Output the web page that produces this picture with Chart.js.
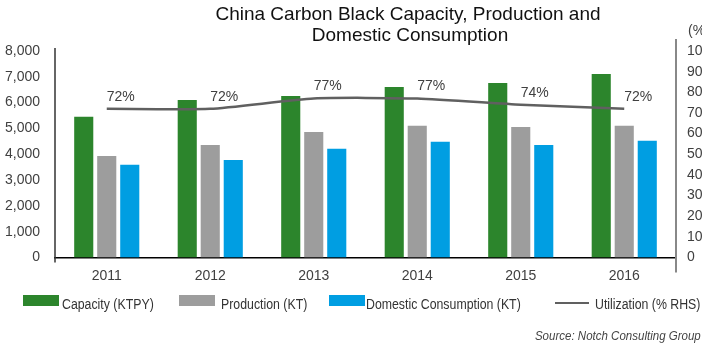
<!DOCTYPE html>
<html>
<head>
<meta charset="utf-8">
<title>China Carbon Black Capacity, Production and Domestic Consumption</title>
<script src="https://cdn.jsdelivr.net/npm/chart.js@4.4.0/dist/chart.umd.min.js"></script>
<style>
  html, body { margin: 0; padding: 0; background: #fff; overflow: hidden; }
  #wrap {
    position: relative; width: 702px; height: 347px; overflow: hidden;
    font-family: 'Liberation Sans', Arial, sans-serif;
  }
  #wrap canvas { position: absolute; left: 0; top: 0; }
  .txt { position: absolute; white-space: nowrap; }
  .title {
    width: 500px; text-align: center; font-size: 19px; line-height: 21px; color: #111;
  }
  .lg-box { position: absolute; width: 36px; height: 11px; }
  .lg-line { position: absolute; width: 34px; height: 2px; background: #606060; }
  .lg-text {
    font-size: 14px; line-height: 16px; color: #333;
    transform: scaleX(0.88); transform-origin: 0 0;
  }
  .source {
    right: 1px; font-size: 12px; line-height: 14px; font-style: italic; color: #444;
    transform: scaleX(0.96); transform-origin: 100% 0;
  }
  .pct { font-size: 14px; line-height: 16px; color: #404040; }
</style>
</head>
<body>
<div id="wrap">
  <canvas id="chart" width="702" height="347"></canvas>

  <div class="txt title" style="left:158px; top:3px;">China Carbon Black Capacity, Production and</div>
  <div class="txt title" style="left:160px; top:24px;">Domestic Consumption</div>
  <div class="txt pct" style="left:688px; top:22px;">(%)</div>

  <div class="lg-box" style="left:23px; top:295px; background:#2c852c;"></div>
  <div class="txt lg-text" style="left:62px; top:296px;">Capacity (KTPY)</div>
  <div class="lg-box" style="left:179px; top:295px; background:#9d9d9d;"></div>
  <div class="txt lg-text" style="left:221px; top:296px;">Production (KT)</div>
  <div class="lg-box" style="left:329px; top:295px; background:#009ee2;"></div>
  <div class="txt lg-text" style="left:366px; top:296px;">Domestic Consumption (KT)</div>
  <div class="lg-line" style="left:555px; top:302px;"></div>
  <div class="txt lg-text" style="left:595px; top:296px;">Utilization (% RHS)</div>

  <div class="txt source" style="top:329px;">Source: Notch Consulting Group</div>
</div>

<script>
// Years and series (thousand tonnes; utilization in %)
const years        = ['2011', '2012', '2013', '2014', '2015', '2016'];
const capacity     = [5450, 6100, 6260, 6610, 6760, 7110];
const production   = [3930, 4360, 4860, 5100, 5060, 5100];
const consumption  = [3590, 3780, 4210, 4480, 4360, 4520];
const utilization  = [72, 72, 77, 77, 74, 72];

const FONT = "'Liberation Sans', Arial, sans-serif";
const COLORS = {
  green: '#2c852c',
  grey:  '#9d9d9d',
  blue:  '#009ee2',
  line:  '#606060',
  tick:  '#404040',
};

// "72%" style labels over the utilization line
const lineLabels = {
  id: 'lineLabels',
  afterDatasetsDraw(chart) {
    const meta = chart.getDatasetMeta(3);
    const ctx = chart.ctx;
    ctx.save();
    ctx.font = '14px ' + FONT;
    ctx.fillStyle = COLORS.tick;
    ctx.textAlign = 'center';
    ctx.textBaseline = 'middle';
    meta.data.forEach((pt, i) => {
      ctx.fillText(utilization[i] + '%', pt.x + 14, pt.y - 12);
    });
    ctx.restore();
  }
};

// vertical axis lines, a little longer than the plot area
const axisLines = {
  id: 'axisLines',
  afterDraw(chart) {
    const { ctx, chartArea, scales } = chart;
    ctx.save();
    ctx.lineWidth = 1.5;
    ctx.strokeStyle = '#333';
    ctx.beginPath();
    ctx.moveTo(scales.y.right, chartArea.top - 3);
    ctx.lineTo(scales.y.right, chartArea.bottom + 5);
    ctx.stroke();
    ctx.lineWidth = 2;
    ctx.strokeStyle = '#888';
    ctx.beginPath();
    ctx.moveTo(scales.y1.left, chartArea.top - 12);
    ctx.lineTo(scales.y1.left, chartArea.bottom + 15);
    ctx.stroke();
    ctx.restore();
  }
};

const barOpts = { categoryPercentage: 0.667, barPercentage: 0.83, order: 1, yAxisID: 'y' };

new Chart(document.getElementById('chart'), {
  type: 'bar',
  data: {
    labels: years,
    datasets: [
      { label: 'Capacity (KTPY)', data: capacity, backgroundColor: COLORS.green, ...barOpts },
      { label: 'Production (KT)', data: production, backgroundColor: COLORS.grey, ...barOpts },
      { label: 'Domestic Consumption (KT)', data: consumption, backgroundColor: COLORS.blue, ...barOpts },
      {
        type: 'line', label: 'Utilization (% RHS)', data: utilization, yAxisID: 'y1', order: 0,
        borderColor: COLORS.line, borderWidth: 2.5, pointRadius: 0, tension: 0.2, fill: false,
      },
    ],
  },
  options: {
    responsive: false,
    animation: false,
    devicePixelRatio: 1,
    layout: { padding: { top: 51, left: 0, right: 0, bottom: 0 } },
    plugins: {
      legend: { display: false },
      title: { display: false },
      tooltip: { enabled: false },
    },
    scales: {
      x: {
        grid: { display: false, drawTicks: false },
        border: { display: true, color: '#000', width: 1.5 },
        ticks: { color: COLORS.tick, font: { family: FONT, size: 14 }, padding: 10 },
        afterFit: s => { s.height = 89.5; },
      },
      y: {
        position: 'left',
        min: 0, max: 8000,
        grid: { display: false, drawTicks: false },
        border: { display: false },
        ticks: {
          stepSize: 1000, color: COLORS.tick, padding: 15,
          font: { family: FONT, size: 14 },
          callback: v => v.toLocaleString('en-US'),
        },
        afterFit: s => { s.width = 55; },
      },
      y1: {
        position: 'right',
        min: 0, max: 100,
        grid: { display: false, drawTicks: false },
        border: { display: false },
        ticks: { stepSize: 10, color: COLORS.tick, padding: 11, font: { family: FONT, size: 14 } },
        afterFit: s => { s.width = 26; },
      },
    },
  },
  plugins: [lineLabels, axisLines],
});
</script>
</body>
</html>
